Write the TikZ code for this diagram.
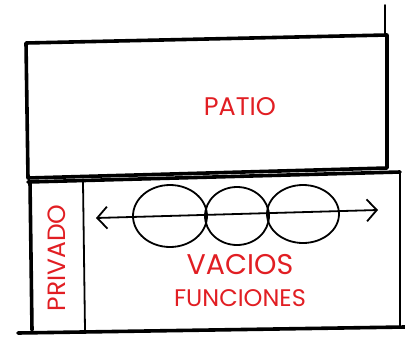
\documentclass[tikz,border=0pt]{standalone}
\usepackage{fontspec}
\setmainfont{Poppins}
\usetikzlibrary{arrows.meta}
\definecolor{rojo}{RGB}{225,30,35}
\tikzset{
  muro/.style={line width=3.6pt, line cap=round, line join=round},
  tabique/.style={line width=1.8pt, line cap=round},
  vacio/.style={line width=1.8pt},
  rotulo/.style={text=rojo, inner sep=0pt}
}

\begin{document}
\begin{tikzpicture}[x=1pt, y=-1pt]
    \useasboundingbox (0, 0) rectangle (405, 346);
    % patio
    \draw[muro] (26, 43) -- (387, 35) -- (387, 168) -- (28, 178) -- cycle;
    \draw[tabique] (385, 5) -- (385, 35);
    % bloque inferior
    \draw[muro] (28, 182) -- (400, 172);
    \draw[muro] (30, 182) -- (32, 330);
    \draw[muro] (18, 333) -- (405, 327);
    \draw[tabique] (83, 182) -- (85, 330);
    \draw[tabique] (400, 172) -- (400, 327);
    % vacios
    \draw[vacio] (170, 216) ellipse [x radius=37, y radius=31];
    \draw[vacio] (237, 216) ellipse [x radius=32, y radius=29];
    \draw[vacio] (303, 214) ellipse [x radius=36, y radius=29];
    \draw[vacio, {Straight Barb[length=10pt, width=22pt]}-{Straight Barb[length=10pt, width=22pt]}] (96, 218) -- (378, 210);
    % textos
    \node[rotulo, font=\fontsize{25.5}{25.5}\selectfont] (patio) at (240, 107) {PATIO};
    \node[rotulo, font=\fontsize{28.5}{28.5}\selectfont] (vacios) at (240, 265) {VACIOS};
    \node[rotulo, font=\fontsize{24}{24}\selectfont] (funciones) at (240, 298) {FUNCIONES};
    \node[rotulo, font=\fontsize{25}{25}\selectfont, rotate=90] (privado) at (57, 258) {PRIVADO};
  \end{tikzpicture}
\end{document}
